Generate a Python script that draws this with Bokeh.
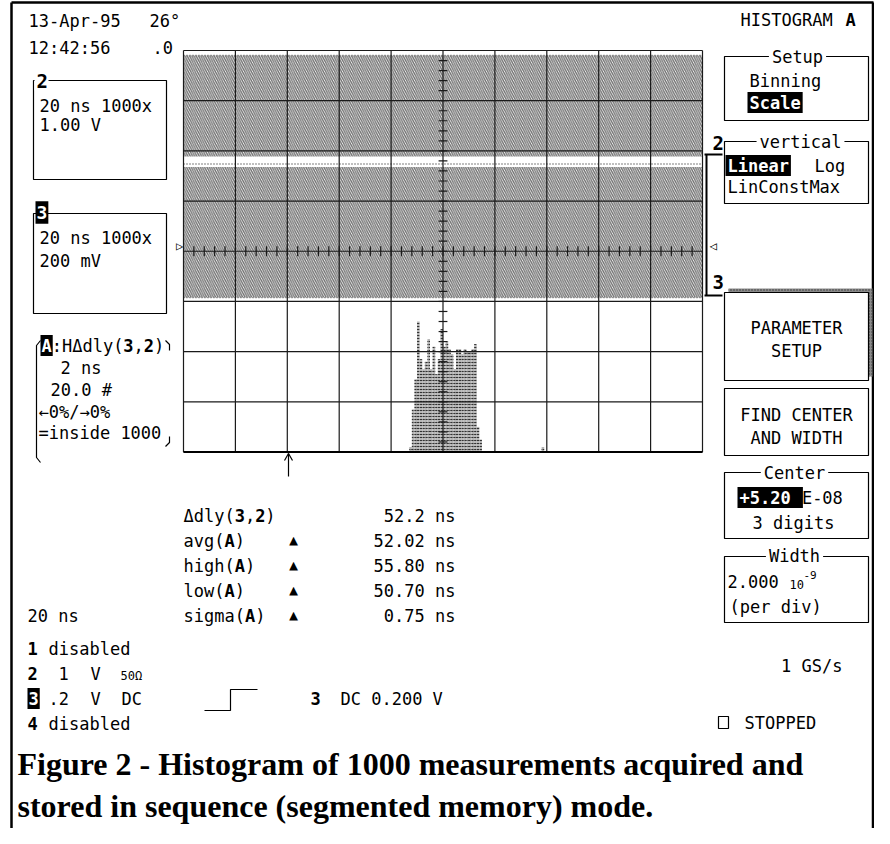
from bokeh.plotting import figure
from bokeh.models import Range1d
from bokeh.core.properties import value
from bokeh.embed import file_html
from bokeh.resources import INLINE

# ---------------- data ----------------
# histogram of the delay parameter (bins of 0.1 ns), counts per bin
bin_start_ns = [50.7, 50.8, 50.9, 51.0, 51.1, 51.2, 51.3, 51.4, 51.5, 51.6,
                51.7, 51.8, 51.9, 52.0, 52.1, 52.2, 52.3, 52.4, 52.5, 52.6,
                52.7, 52.8, 52.9, 53.0, 53.1, 53.2, 53.3, 53.4, 55.8]
bin_counts = [2, 17, 29, 52, 37, 33, 36, 45, 33, 42,
              31, 37, 49, 42, 44, 41, 39, 33, 41, 41,
              39, 41, 40, 40, 41, 43, 10, 5, 2]
bin_width_ns = 0.1
center_ns = 52.0          # +5.20 E-08
ns_per_div = 2.0          # 2.000 10^-9 per div
counts_per_div = 20

# persistence bands of traces 2 and 3 (in screen divisions from bottom)
band_names = ["trace 2", "trace 3"]
band_top_div = [7.90, 5.68]
band_bottom_div = [5.89, 3.08]
noise_rows_div = [7.90, 5.74, 3.08]

meas_labels = ["\u0394dly(", "avg(", "high(", "low(", "sigma("]
meas_args = [["3", ",", "2"], ["A"], ["A"], ["A"], ["A"]]
meas_values = ["52.2 ns", "52.02 ns", "55.80 ns", "50.70 ns", "0.75 ns"]

# ---------------- layout ----------------
W, H = 874, 828
X0, Y0 = 0, 0
GL, GR, GT, GB = 183.0, 702.0, 50.0, 451.5   # graticule in picture px
NDX, NDY = 10, 8

p = figure(width=W, height=H, output_backend="svg", toolbar_location=None,
           x_range=Range1d(X0, X0 + W), y_range=Range1d(Y0 + H, Y0),
           x_axis_location=None, y_axis_location=None, min_border=0,
           outline_line_color=None, background_fill_color="white")
p.grid.visible = False

pxdx = (GR - GL) / NDX
pxdy = (GB - GT) / NDY
gx0, gx1 = (X0 - GL) / pxdx, (X0 + W - GL) / pxdx
gy0, gy1 = (GB - (Y0 + H)) / pxdy, (GB - Y0) / pxdy
p.extra_x_ranges = {"div": Range1d(gx0, gx1),
                    "ns": Range1d(center_ns + (gx0 - NDX / 2) * ns_per_div,
                                  center_ns + (gx1 - NDX / 2) * ns_per_div)}
p.extra_y_ranges = {"div": Range1d(gy0, gy1),
                    "cnt": Range1d(gy0 * counts_per_div, gy1 * counts_per_div)}

MONO = "DejaVu Sans Mono"
FS = 17
CW = 0.602 * FS


def T(x, y, s, size=FS, bold=False, color="black", align="left", font=MONO, baseline="middle"):
    p.text(x=[x], y=[y], text=[s], text_font=value(font), text_font_size=f"{size}px",
           text_font_style="bold" if bold else "normal", text_color=color,
           text_align=align, text_baseline=baseline)


def INV(x, y, s, size=FS, bold=True, pad=2):
    w = len(s) * 0.602 * size
    p.quad(left=[x - pad], right=[x + w + pad], top=[y - size * 0.62], bottom=[y + size * 0.62],
           fill_color="black", line_color=None)
    T(x, y, s, size, bold, "white")


def L(xs, ys, w=1.2, c="black"):
    p.line(x=xs, y=ys, line_color=c, line_width=w)


def BOX(l, r, t, b, w=1.2):
    p.quad(left=[l], right=[r], top=[t], bottom=[b], fill_color="white",
           line_color="black", line_width=w)


def TITLE(cx, y, s):
    w = len(s) * CW + 6
    p.quad(left=[cx - w / 2], right=[cx + w / 2], top=[y - 3], bottom=[y + 3],
           fill_color="white", line_color=None)
    T(cx, y, s, align="center")


# ---------------- frame ----------------
L([11, 11], [2, H], 2.5)
L([11, W - 1], [2, 2], 2.5)
L([W - 1.5, W - 1.5], [2, H], 2.5)

# ---------------- graticule ----------------
p.quad(left=[0, 0], right=[NDX, NDX], top=band_top_div, bottom=band_bottom_div,
       x_range_name="div", y_range_name="div", fill_color="#f6f6f6", line_color=None,
       hatch_pattern="left_diagonal_line", hatch_scale=4.5, hatch_weight=1.3, hatch_color="#6e6e6e")
for r in noise_rows_div:
    p.line(x=[0, NDX], y=[r, r], x_range_name="div", y_range_name="div",
           line_color="#555555", line_width=1.5, line_dash="1 2")
p.quad(left=bin_start_ns, right=[b + bin_width_ns for b in bin_start_ns],
       bottom=[0] * len(bin_counts), top=bin_counts,
       x_range_name="ns", y_range_name="cnt", fill_color="#b4b4b4", line_color=None,
       hatch_pattern="horizontal_dash", hatch_scale=3, hatch_weight=1, hatch_color="#333333")

vx = list(range(NDX + 1))
p.segment(x0=vx, y0=[0] * len(vx), x1=vx, y1=[NDY] * len(vx), x_range_name="div",
          y_range_name="div", line_color="#1a1a1a", line_width=1.2)
hy = list(range(NDY + 1))
p.segment(x0=[0] * len(hy), y0=hy, x1=[NDX] * len(hy), y1=hy, x_range_name="div",
          y_range_name="div", line_color="#1a1a1a", line_width=1.2)
# centre axis minor ticks (5 per division)
ty = [i / 5 for i in range(1, NDY * 5)]
p.segment(x0=[NDX / 2 - 0.085] * len(ty), y0=ty, x1=[NDX / 2 + 0.085] * len(ty), y1=ty,
          x_range_name="div", y_range_name="div", line_color="#1a1a1a", line_width=1.2)
tx = [i / 5 for i in range(1, NDX * 5)]
p.segment(x0=tx, y0=[NDY / 2 - 0.1] * len(tx), x1=tx, y1=[NDY / 2 + 0.1] * len(tx),
          x_range_name="div", y_range_name="div", line_color="#1a1a1a", line_width=1.2)
L([GL, GR], [GB, GB], 2)

# trace markers
T(179, 245, "\u25B7", size=12, align="center")
T(713, 245, "\u25C1", size=12, align="center")
T(712, 142, "2", bold=True, size=19)
L([704, 722], [154, 154], 2)
T(712, 281, "3", bold=True, size=19)
L([704, 722], [295, 295], 2)
L([706, 706], [154, 295], 2)

# trigger arrow
L([288, 288], [453, 476], 1.2)
L([284, 288, 292], [460, 453, 460], 1.2)

# ---------------- top-left ----------------
T(28, 20, "13-Apr-95")
T(149, 20, "26\u00B0")
T(28, 47, "12:42:56")
T(152, 47, ".0")

BOX(33, 166, 80, 179)
p.quad(left=[34], right=[48], top=[70], bottom=[90], fill_color="white", line_color=None)
T(36, 80, "2", bold=True, size=19)
T(39, 105, "20 ns 1000x")
T(39, 124, "1.00 V")

BOX(33, 166, 213, 313)
INV(36, 212, "3", size=18, pad=1)
T(39, 237, "20 ns 1000x")
T(39, 260, "200 mV")

# parameter A bracket
L([40, 36, 36, 40], [340, 345, 457, 462], 1.2)
L([165, 169, 169], [340, 344, 350], 1.2)
L([169, 169, 165], [436, 442, 446], 1.2)
INV(41, 345, "A", size=17, pad=1)
x = 41 + CW
T(x, 345, ":H\u0394dly(")
x += 7 * CW
T(x, 345, "3", bold=True)
T(x + CW, 345, ",")
T(x + 2 * CW, 345, "2", bold=True)
T(x + 3 * CW, 345, ")")
T(60, 367, "2 ns")
T(50, 389, "20.0 #")
T(38, 411, "\u21900%/\u21920%")
T(38, 432, "=inside 1000")

# ---------------- right panel ----------------
T(740, 19, "HISTOGRAM")
T(845, 19, "A", bold=True)

BOX(724, 868, 56, 120)
TITLE(797, 56, "Setup")
T(749, 80, "Binning")
INV(749, 102, "Scale")

BOX(724, 868, 141, 203)
TITLE(800, 141, "vertical")
INV(727, 165, "Linear")
T(814, 165, "Log")
T(727, 186, "LinConstMax")

p.quad(left=[728], right=[872], top=[288], bottom=[376], fill_color="#8a8a8a", line_color=None,
       hatch_pattern="dot", hatch_scale=3, hatch_color="#333333")
BOX(724, 868, 292, 380)
T(796, 327, "PARAMETER", align="center")
T(796, 350, "SETUP", align="center")

BOX(724, 868, 388, 455)
T(796, 414, "FIND CENTER", align="center")
T(796, 437, "AND WIDTH", align="center")

BOX(724, 868, 472, 538)
TITLE(794, 472, "Center")
INV(739, 497, "+5.20 ")
T(739 + 6 * CW + 1, 497, "E-08")
T(752, 522, "3 digits")

BOX(724, 868, 556, 622)
TITLE(794, 555, "Width")
T(727, 581, "2.000")
T(789, 584, "10", size=12)
T(803, 574, "-9", size=11)
T(729, 606, "(per div)")

T(842, 665, "1 GS/s", align="right")
p.quad(left=[718], right=[728], top=[716], bottom=[728], fill_color="white", line_color="black",
       line_width=1.2)
T(744, 722, "STOPPED")

# ---------------- measurements ----------------
rows_y = [515, 540, 565, 590, 615]
for lab, args, val, y in zip(meas_labels, meas_args, meas_values, rows_y):
    x = 183
    T(x, y, lab)
    x += len(lab) * CW
    for a in args:
        T(x, y, a, bold=(a != ","))
        x += CW
    T(x, y, ")")
    if lab != meas_labels[0]:
        T(293, y - 1, "\u25B2", size=15, align="center")
    T(455, y, val, align="right")

T(27, 615, "20 ns")
T(27, 648, "1", bold=True)
T(48, 648, "disabled")
T(27, 673, "2", bold=True)
T(58, 673, "1")
T(90, 673, "V")
T(120, 675, "50\u03A9", size=12)
INV(28, 698, "3", size=17, pad=1)
T(48, 698, ".2")
T(90, 698, "V")
T(121, 698, "DC")
T(27, 723, "4", bold=True)
T(48, 723, "disabled")
L([204, 230, 230, 257], [710, 710, 689, 689], 1.2)
T(310, 698, "3", bold=True)
T(340, 698, "DC 0.200 V")

# ---------------- caption ----------------
T(17, 763, "Figure 2 - Histogram of 1000 measurements acquired and", size=32, bold=True,
  font="Liberation Serif")
T(17, 805, "stored in sequence (segmented memory) mode.", size=32, bold=True,
  font="Liberation Serif")

open("out.html", "w").write(file_html(p, INLINE))
